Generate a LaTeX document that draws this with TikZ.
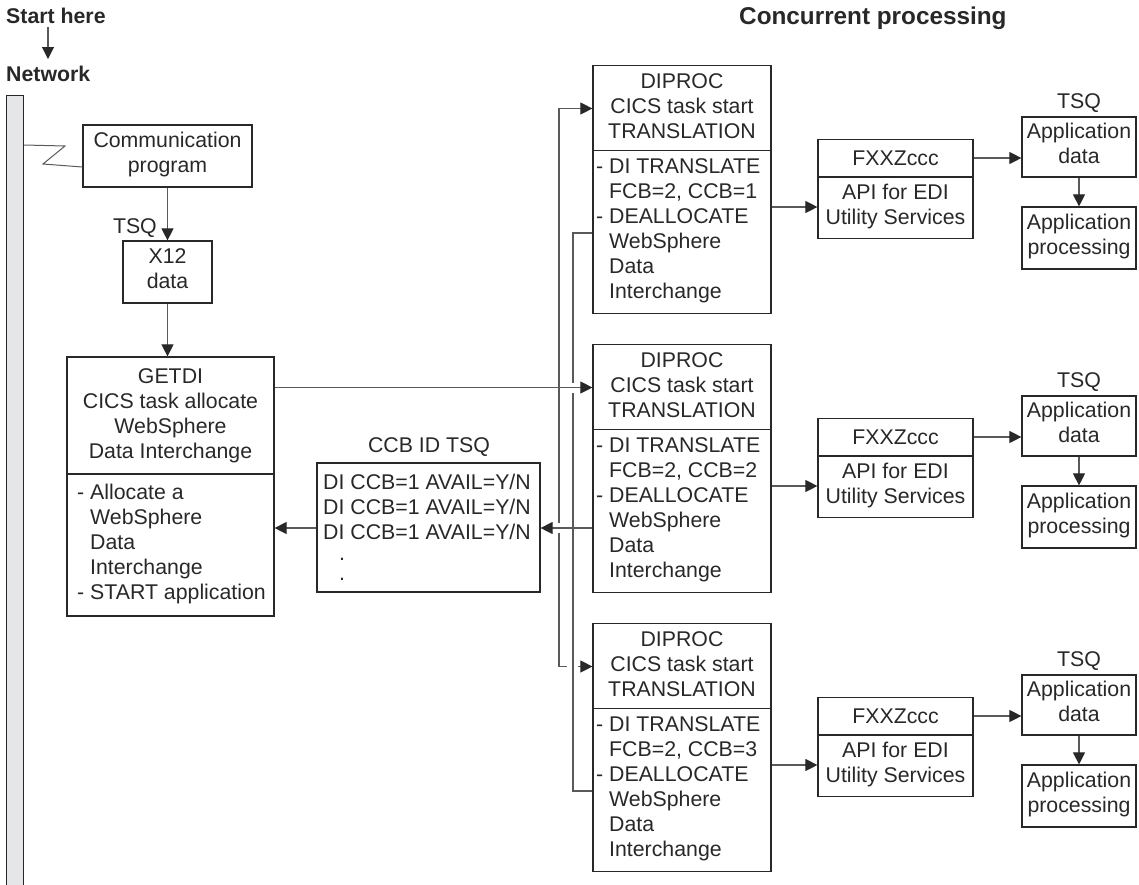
\documentclass[tikz,border=0pt]{standalone}
\usepackage{fontspec}
\setmainfont{Liberation Sans}
\usetikzlibrary{arrows.meta}
\definecolor{barfill}{RGB}{229,230,232}
\definecolor{linec}{RGB}{90,90,90}
\definecolor{boxc}{RGB}{40,40,40}
\begin{document}
\begin{tikzpicture}[x=1pt,y=-1pt,
  every node/.style={font=\fontsize{21.3}{25}\selectfont, inner sep=0pt, text=boxc},
  box/.style={draw=boxc, line width=1.2pt, align=center, execute at begin node=\strut, execute at end node=\strut},
  boxline/.style={draw=boxc, line width=1.2pt},
  txt/.style={execute at begin node=\strut, execute at end node=\strut},
  conn/.style={draw=linec, line width=1.1pt},
  arr/.style={conn, -{Triangle[length=12pt,width=12pt,color=boxc]}},
  title/.style={font=\fontsize{21.3}{25}\selectfont\bfseries, anchor=base west},
]
\useasboundingbox (0,0) rectangle (1139,884);

% titles
\node[title] (start) at (6,23) {Start here};
\node[title] (net) at (6,81) {Network};
\node[title, font=\fontsize{24.3}{28}\selectfont\bfseries] (conc) at (739,24) {Concurrent processing};
\coordinate (st1) at (48,27);
\coordinate (st2) at (48,59);
\draw[arr] (st1) -- (st2);

% network bar
\node[draw=boxc, line width=1.2pt, fill=barfill, minimum width=17pt, minimum height=820pt, anchor=north west] (bar) at (6,95) {};

% communication program
\node[box, minimum width=169pt, minimum height=62pt] (comm) at (167.5,156) {Communication\\program};
\coordinate (zA) at (65,146);
\coordinate (zB) at (43,164);
\draw[conn, line width=1pt] (bar.east |- 0,145) -- (zA) -- (zB) -- (comm.west |- 0,167);

% X12
\node[box, minimum width=89pt, minimum height=62pt] (x12) at (167.5,272) {X12\\data};
\node[anchor=east] (tsq0) at (157,228) {TSQ};
\draw[arr] (comm) -- (x12);

% GETDI
\node[box, minimum width=207pt, minimum height=259pt] (getdi) at (170.5,486.5) {};
\draw[boxline] (getdi.west |- 0,474) -- (getdi.east |- 0,474);
\node[txt, align=center, anchor=north] (getdiT) at (170.5,368.2) {GETDI\\CICS task allocate\\WebSphere\\Data Interchange};
\node[txt, align=left, anchor=north west] (getdiB) at (77,484.2) {- Allocate a\\\phantom{- }WebSphere\\\phantom{- }Data\\\phantom{- }Interchange\\- START application};
\draw[arr] (x12.south) -- (x12.south |- getdi.north);

% CCB ID TSQ
\node[box, minimum width=223pt, minimum height=129pt] (ccb) at (428.5,527.5) {};
\node (ccbl) at (429,447) {CCB ID TSQ};
\node[txt, align=left, anchor=north west] (ccbt) at (323,473.5) {DI CCB=1 AVAIL=Y/N\\DI CCB=1 AVAIL=Y/N\\DI CCB=1 AVAIL=Y/N};
\node[anchor=base] (dot1) at (342,560) {.};
\node[anchor=base] (dot2) at (342,580) {.};

% DIPROC groups
\foreach \k/\tp in {1/64.5, 2/343.5, 3/622.5} {
  \node[box, minimum width=178pt, minimum height=248pt, anchor=north] (dp\k) at (682,\tp) {};
  \draw[boxline] (dp\k.west |- 0,\tp+86) -- (dp\k.east |- 0,\tp+86);
  \node[txt, align=center, anchor=north] (dpT\k) at (682,\tp+9) {DIPROC\\CICS task start\\TRANSLATION};
  \node[txt, align=left, anchor=north west] (dpB\k) at (596,\tp+93.7) {- DI TRANSLATE\\\phantom{- }FCB=2, CCB=\k\\- DEALLOCATE\\\phantom{- }WebSphere\\\phantom{- }Data\\\phantom{- }Interchange};
  \node[box, minimum width=155pt, minimum height=99pt, anchor=north] (fx\k) at (895.5,\tp+74.5) {};
  \draw[boxline] (fx\k.west |- 0,\tp+112.5) -- (fx\k.east |- 0,\tp+112.5);
  \node (fxT\k) at (895.5,\tp+93.5) {FXXZccc};
  \node[txt, align=center, anchor=north] (fxB\k) at (895.5,\tp+119.7) {API for EDI\\Utility Services};
  \node[box, minimum width=114pt, minimum height=60pt] (ad\k) at (1079,\tp+82.5) {Application\\data};
  \node (tsq\k) at (1079,\tp+38.5) {TSQ};
  \node[box, minimum width=114pt, minimum height=62pt] (ap\k) at (1079,\tp+173.5) {Application\\processing};
  \draw[arr] (dp\k.east |- 0,\tp+142.5) -- (fx\k.west |- 0,\tp+142.5);
  \draw[arr] (fx\k.east |- fxT\k) -- (ad\k.west |- fxT\k);
  \draw[arr] (ad\k) -- (ap\k);
}

% buses
\coordinate (L1) at (559,108.5);
\coordinate (L2) at (559,666.5);
\coordinate (gL1) at (559,523);
\coordinate (gL2) at (559,533);
\coordinate (gL3) at (567,666.5);
\coordinate (gL4) at (578,666.5);
\coordinate (R1) at (573,233);
\coordinate (R3) at (573,791);
\coordinate (gR1) at (573,383);
\coordinate (gR2) at (573,393);
\draw[arr] (gL1) -- (L1) -- (L1 -| dp1.west);
\draw[conn] (gL2) -- (L2) -- (gL3);
\draw[arr] (gL4) -- (L2 -| dp3.west);
\draw[conn] (dp1.west |- R1) -- (R1) -- (gR1);
\draw[conn] (gR2) -- (R3) -- (dp3.west |- R3);

\draw[arr] (getdi.east |- 0,387.5) -- (dp2.west |- 0,387.5);
\draw[arr] (dp2.west |- 0,528) -- (ccb.east |- 0,528);
\draw[arr] (ccb.west |- 0,528) -- (getdi.east |- 0,528);
\end{tikzpicture}
\end{document}
